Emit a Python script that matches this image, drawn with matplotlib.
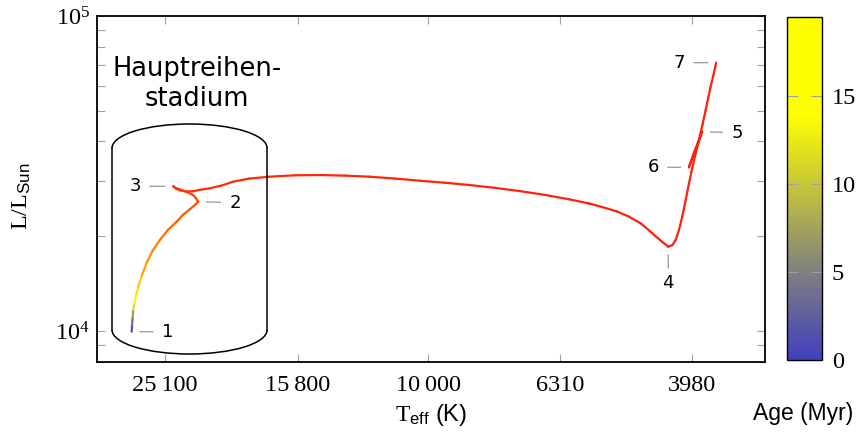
import matplotlib
matplotlib.use('Agg')
import matplotlib.pyplot as plt
import numpy as np
from matplotlib.collections import LineCollection
from matplotlib.colors import LinearSegmentedColormap, Normalize
from matplotlib.patches import Arc
from matplotlib.ticker import LogLocator, NullLocator, NullFormatter
import matplotlib.cm as cm

plt.rcParams['font.family'] = ['Liberation Serif', 'DejaVu Serif']
plt.rcParams['mathtext.fontset'] = 'custom'
plt.rcParams['mathtext.rm'] = 'Liberation Serif'
plt.rcParams['mathtext.sf'] = 'Liberation Sans'
plt.rcParams['mathtext.it'] = 'Liberation Serif:italic'

# evolutionary track: log Teff, log L/Lsun, age (Myr)
log_teff = [4.4505, 4.4498, 4.4491, 4.4480, 4.4462, 4.4435, 4.4405, 4.4348, 4.4277, 4.4189,
            4.4076, 4.3955, 4.3823, 4.3727, 4.3621, 4.3545, 4.3495, 4.3530, 4.3571, 4.3667,
            4.3747, 4.3833, 4.3874, 4.3833, 4.3773, 4.3682, 4.3571, 4.3439, 4.3318, 4.3136,
            4.2965, 4.2712, 4.2409, 4.2030, 4.1652, 4.1273, 4.0894, 4.0515, 4.0136, 3.9758,
            3.9379, 3.9000, 3.8621, 3.8242, 3.7864, 3.7561, 3.7364, 3.7136, 3.6955, 3.6773,
            3.6606, 3.6455, 3.6359, 3.6295, 3.6247, 3.6197, 3.6147, 3.6095, 3.6045, 3.5995,
            3.5944, 3.5894, 3.5844, 3.5909, 3.5985, 3.6045, 3.5970, 3.5894, 3.5841, 3.5792,
            3.5753, 3.5717, 3.5674, 3.5632]
log_lum = [3.9978, 4.0190, 4.0413, 4.0667, 4.0889, 4.1143, 4.1397, 4.1778, 4.2159, 4.2540,
           4.2889, 4.3206, 4.3470, 4.3683, 4.3863, 4.4000, 4.4105, 4.4222, 4.4317, 4.4413,
           4.4476, 4.4540, 4.4594, 4.4524, 4.4467, 4.4429, 4.4438, 4.4492, 4.4530, 4.4619,
           4.4740, 4.4841, 4.4898, 4.4943, 4.4952, 4.4933, 4.4898, 4.4841, 4.4771, 4.4708,
           4.4635, 4.4546, 4.4444, 4.4324, 4.4181, 4.4048, 4.3937, 4.3794, 4.3629, 4.3413,
           4.3111, 4.2835, 4.2676, 4.2730, 4.2889, 4.3206, 4.3629, 4.4159, 4.4689, 4.5175,
           4.5641, 4.6032, 4.6327, 4.5968, 4.5556, 4.5197, 4.5651, 4.6063, 4.6540, 4.7016,
           4.7397, 4.7756, 4.8127, 4.8518]
age = [0.0, 2.5, 5.0, 9.0, 14.0, 17.0, 19.5, 20.3, 21.0, 21.6,
       22.2, 22.7, 23.2, 23.6, 24.0, 24.3, 24.6, 24.8, 25.0, 25.2,
       25.4, 25.6, 25.8, 26.0, 26.2, 26.4, 26.6, 26.8, 27.0, 27.2,
       27.4, 27.6, 27.8, 28.0, 28.2, 28.4, 28.6, 28.8, 29.0, 29.2,
       29.4, 29.6, 29.8, 30.0, 30.2, 30.4, 30.6, 30.8, 31.0, 31.2,
       31.4, 31.6, 31.8, 32.0, 32.2, 32.4, 32.6, 32.8, 33.0, 33.2,
       33.4, 33.6, 33.8, 34.0, 34.2, 34.4, 34.6, 34.8, 35.0, 35.2,
       35.4, 35.6, 35.8, 36.0]

pin_labels = ['1', '2', '3', '4', '5', '6', '7']
pin_index = [0, 16, 22, 52, 62, 65, 73]

teff_ticks = [25100, 15800, 10000, 6310, 3980]
teff_ticklabels = ['25\u2009100', '15\u2009800', '10\u2009000', '6310', '3980']
age_ticks = [0, 5, 10, 15]
age_max = 19.5

teff = 10 ** np.array(log_teff)
lum = 10 ** np.array(log_lum)
age = np.array(age)

blue = (0.25, 0.25, 0.75)
gray = (0.5, 0.5, 0.5)
yellow = (1.0, 1.0, 0.0)
cbar_cmap = LinearSegmentedColormap.from_list(
    'agebar', [(0, blue), (5 / age_max, gray), (14 / age_max, yellow), (1, yellow)])
track_max = 30.0
track_cmap = LinearSegmentedColormap.from_list(
    'track', [(0, blue), (5 / track_max, gray), (14 / track_max, yellow),
              (19.5 / track_max, (1.0, 0.85, 0.0)), (21 / track_max, (1.0, 0.6, 0.0)),
              (23 / track_max, (1.0, 0.4, 0.0)), (26 / track_max, (1.0, 0.2, 0.0)),
              (1, (1.0, 0.12, 0.05))])

fig = plt.figure(figsize=(8.58, 4.32), dpi=100)
ax = fig.add_axes([0.1131, 0.162, 0.7786, 0.801])
cax = fig.add_axes([0.9172, 0.1667, 0.0408, 0.794])

ax.set_xscale('log')
ax.set_yscale('log')
ax.set_xlim(10 ** 4.503, 10 ** 3.489)
ax.set_ylim(10 ** 3.9016, 1e5)

pts = np.column_stack([teff, lum])
segs = np.stack([pts[:-1], pts[1:]], axis=1)
lc = LineCollection(segs, cmap=track_cmap, norm=Normalize(0, track_max),
                    linewidths=1.6, capstyle='round', joinstyle='round')
lc.set_array((age[:-1] + age[1:]) / 2)
ax.add_collection(lc)

# pins
pin_offsets = [(36, 0), (37, -1), (-38, 0), (0, -36), (35, -1), (-36, 0), (-37, 0)]
for lab, i, (dx, dy) in zip(pin_labels, pin_index, pin_offsets):
    sa = 2 if dx == 0 else 4.5
    ax.annotate(lab, xy=(teff[i], lum[i]), xytext=(dx, dy), textcoords='offset pixels',
                ha='center', va='center', fontsize=13, family='DejaVu Sans',
                arrowprops=dict(arrowstyle='-', color='#a0a0a0', lw=1.0,
                                shrinkA=sa, shrinkB=6))

# main-sequence box (cylinder shape)
bx0, bx1 = 0.02246, 0.2545
bcx, bw = (bx0 + bx1) / 2, bx1 - bx0
ytop, ybot, eh = 0.6185, 0.0925, 0.1387
ax.add_patch(Arc((bcx, ytop), bw, eh, theta1=0, theta2=180, transform=ax.transAxes,
                 color='black', lw=1.1))
ax.add_patch(Arc((bcx, ybot), bw, eh, theta1=180, theta2=360, transform=ax.transAxes,
                 color='black', lw=1.1))
ax.plot([bx0, bx0], [ybot, ytop], transform=ax.transAxes, color='black', lw=1.1)
ax.plot([bx1, bx1], [ybot, ytop], transform=ax.transAxes, color='black', lw=1.1)
ax.text(0.1497, 0.8035, 'Hauptreihen-\nstadium', transform=ax.transAxes, ha='center',
        va='center', fontsize=18.5, family='DejaVu Sans', linespacing=1.2)

ax.set_xticks(teff_ticks)
ax.set_xticklabels(teff_ticklabels)
ax.xaxis.set_minor_locator(NullLocator())
ax.yaxis.set_major_locator(LogLocator(base=10))
ax.yaxis.set_minor_locator(LogLocator(base=10, subs=np.arange(2, 10)))
ax.yaxis.set_minor_formatter(NullFormatter())
ax.tick_params(which='both', direction='in', top=True, right=True, color='#a0a0a0',
               length=6, width=0.8, labelsize=17.5)
ax.tick_params(axis='x', pad=9)
ax.tick_params(axis='y', pad=5)
for s in ax.spines.values():
    s.set_linewidth(1.3)

sm = cm.ScalarMappable(norm=Normalize(0, age_max), cmap=cbar_cmap)
cb = fig.colorbar(sm, cax=cax)
cb.set_ticks(age_ticks)
cb.outline.set_linewidth(1.0)
cax.tick_params(direction='in', left=True, right=True, color='#a0a0a0', length=8,
                width=0.8, labelsize=17.5, pad=7)

fig.text(0.502, 0.0255, r'$\mathrm{T}_{\mathsf{eff}}$ (K)', ha='center', va='baseline',
         fontsize=17, family='Liberation Sans')
fig.text(0.936, 0.0278, 'Age (Myr)', ha='center', va='baseline', fontsize=16.5,
         family='Liberation Sans')
fig.text(0.0256, 0.546, r'$\mathrm{L/L}_{\mathsf{Sun}}$', ha='center', va='center',
         rotation=90, fontsize=17.5, family='Liberation Sans')

fig.savefig('out.png', dpi=100)
